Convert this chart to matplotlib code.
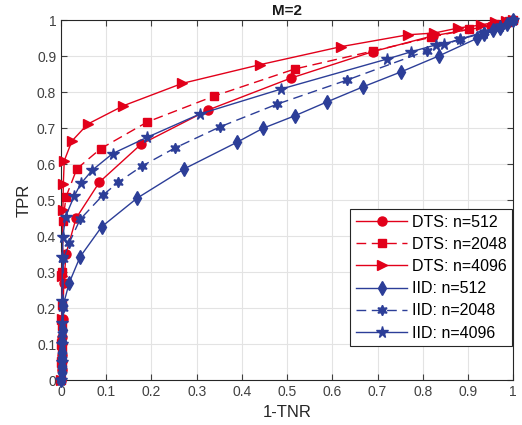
import numpy as np
from matplotlib import pyplot as plt
from matplotlib.ticker import FormatStrFormatter

plt.rcParams['font.family'] = ['Liberation Sans', 'DejaVu Sans']

# curvas ROC
dts512_x = [0, 0.001, 0.002, 0.003, 0.004, 0.006, 0.011, 0.033, 0.085, 0.177, 0.325, 0.509, 0.689, 0.822, 0.95, 0.99, 1.0]
dts512_y = [0, 0.03, 0.07, 0.12, 0.17, 0.27, 0.352, 0.45, 0.551, 0.656, 0.751, 0.84, 0.913, 0.957, 0.985, 0.996, 1.0]

dts2048_x = [0, 0.001, 0.001, 0.002, 0.002, 0.003, 0.004, 0.011, 0.035, 0.088, 0.191, 0.339, 0.517, 0.69, 0.818, 0.903, 0.96, 0.99, 1.0]
dts2048_y = [0, 0.04, 0.09, 0.15, 0.21, 0.30, 0.442, 0.51, 0.588, 0.644, 0.718, 0.79, 0.865, 0.915, 0.953, 0.976, 0.99, 0.997, 1.0]

dts4096_x = [0, 0.001, 0.001, 0.002, 0.003, 0.004, 0.005, 0.007, 0.024, 0.059, 0.138, 0.268, 0.44, 0.619, 0.767, 0.826, 0.879, 0.928, 0.959, 0.985, 1.0]
dts4096_y = [0, 0.05, 0.1, 0.17, 0.29, 0.473, 0.546, 0.61, 0.665, 0.712, 0.763, 0.825, 0.877, 0.927, 0.96, 0.965, 0.979, 0.987, 0.995, 0.998, 1.0]

iid512_x = [0, 0.001, 0.001, 0.002, 0.002, 0.003, 0.004, 0.005, 0.018, 0.042, 0.09, 0.168, 0.273, 0.39, 0.446, 0.517, 0.589, 0.669, 0.752, 0.837, 0.92, 0.936, 0.955, 0.97, 0.987, 1.0]
iid512_y = [0, 0.02, 0.04, 0.06, 0.08, 0.11, 0.14, 0.21, 0.271, 0.343, 0.427, 0.506, 0.588, 0.662, 0.70, 0.735, 0.774, 0.816, 0.857, 0.902, 0.95, 0.962, 0.972, 0.98, 0.99, 1.0]

iid2048_x = [0, 0.001, 0.002, 0.003, 0.004, 0.005, 0.018, 0.042, 0.092, 0.127, 0.18, 0.251, 0.351, 0.477, 0.632, 0.81, 0.883, 0.936, 0.97, 1.0]
iid2048_y = [0, 0.03, 0.07, 0.13, 0.2, 0.336, 0.382, 0.447, 0.514, 0.551, 0.596, 0.645, 0.704, 0.767, 0.834, 0.916, 0.948, 0.968, 0.985, 1.0]

iid4096_x = [0, 0.001, 0.001, 0.002, 0.002, 0.003, 0.004, 0.01, 0.029, 0.044, 0.069, 0.114, 0.19, 0.307, 0.486, 0.722, 0.775, 0.829, 0.848, 0.883, 0.936, 0.97, 1.0]
iid4096_y = [0, 0.05, 0.1, 0.16, 0.22, 0.343, 0.399, 0.455, 0.512, 0.547, 0.584, 0.63, 0.675, 0.74, 0.809, 0.893, 0.913, 0.932, 0.935, 0.948, 0.965, 0.985, 1.0]

vermelho = '#E2001A'
azul = '#2C3E98'

fig = plt.figure(figsize=(5.22, 4.25), dpi=100)
ax = fig.add_axes([0.117, 0.105, 0.866, 0.847])

ax.plot(dts512_x, dts512_y, '-', color=vermelho, marker='o', ms=6.5, lw=1, label='DTS: n=512', clip_on=False, zorder=3)
ax.plot(dts2048_x, dts2048_y, '--', color=vermelho, marker='s', ms=6, lw=1, dashes=(7, 4), label='DTS: n=2048', clip_on=False, zorder=3)
ax.plot(dts4096_x, dts4096_y, '-', color=vermelho, marker='>', ms=7.5, lw=1, label='DTS: n=4096', clip_on=False, zorder=3)
ax.plot(iid512_x, iid512_y, '-', color=azul, marker='d', ms=7.5, lw=1, label='IID: n=512', clip_on=False, zorder=3)
ax.plot(iid2048_x, iid2048_y, '--', color=azul, marker=(6, 1, 0), ms=7.5, lw=1, dashes=(7, 4), label='IID: n=2048', clip_on=False, zorder=3)
ax.plot(iid4096_x, iid4096_y, '-', color=azul, marker='*', ms=8.5, lw=1, label='IID: n=4096', clip_on=False, zorder=3)

ax.set_xlim(0, 1)
ax.set_ylim(0, 1)
ax.set_xticks(np.arange(0, 1.01, 0.1))
ax.set_yticks(np.arange(0, 1.01, 0.1))
ax.xaxis.set_major_formatter(FormatStrFormatter('%g'))
ax.yaxis.set_major_formatter(FormatStrFormatter('%g'))
ax.tick_params(direction='in', top=True, right=True, labelsize=10, colors='#404040', length=4)
ax.grid(True, color='#E3E3E3', lw=0.8)
ax.set_axisbelow(True)
for s in ax.spines.values():
    s.set_color('#262626')
    s.set_linewidth(0.8)

ax.set_xlabel('1-TNR', fontsize=12, color='#262626')
ax.set_ylabel('TPR', fontsize=12, color='#262626')
ax.set_title('M=2', fontsize=11, fontweight='bold', color='#1a1a1a', pad=4)

leg = ax.legend(loc='lower right', bbox_to_anchor=(0.998, 0.095), fontsize=11.5, handlelength=3.2,
                fancybox=False, edgecolor='#262626', framealpha=1, borderpad=0.35, labelspacing=0.45,
                handletextpad=0.3, borderaxespad=0)
leg.get_frame().set_linewidth(0.8)

fig.savefig('out.png', dpi=100)
